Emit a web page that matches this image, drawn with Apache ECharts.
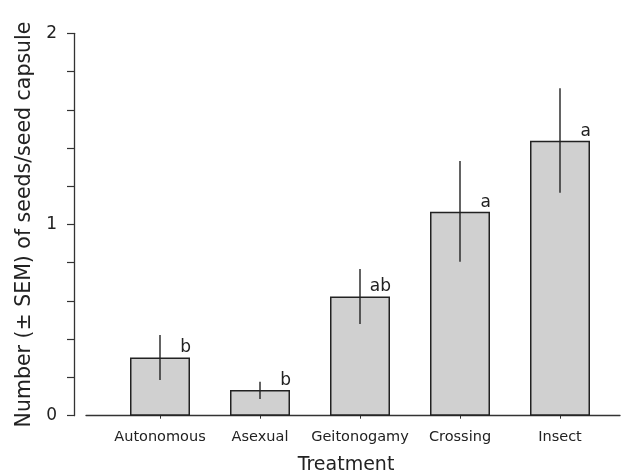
<!DOCTYPE html>
<html>
<head>
<meta charset="utf-8">
<script src="https://cdn.jsdelivr.net/npm/echarts@6/dist/echarts.min.js"></script>
<style>html,body{margin:0;padding:0;background:#fff}#c{width:622px;height:475px}</style>
</head>
<body>
<div id="c"></div>
<script>
const categories = ['Autonomous', 'Asexual', 'Geitonogamy', 'Crossing', 'Insect'];
const means = [0.305, 0.134, 0.624, 1.067, 1.438];
const errLow = [0.187, 0.087, 0.48, 0.805, 1.166];
const errHigh = [0.422, 0.178, 0.767, 1.332, 1.712];
const letters = ['b', 'b', 'ab', 'a', 'a'];
const yTicks = [0, 1, 2];

const font = 'DejaVu Sans';
const chart = echarts.init(document.getElementById('c'), null, {renderer: 'canvas'});
const idx = categories.map((c, i) => i);

chart.setOption({
  animation: false,
  backgroundColor: '#fff',
  grid: {left: 86, right: 2, top: 33.3, bottom: 59.3, containLabel: false, outerBoundsMode: 'none'},
  xAxis: {
    type: 'value', min: -0.74, max: 4.6,
    splitLine: {show: false},
    axisLine: {show: true, onZero: false, lineStyle: {color: '#333', width: 1.3}},
    axisTick: {show: true, customValues: idx, length: 3, lineStyle: {color: '#333'}},
    axisLabel: {
      show: true, customValues: idx, margin: 14,
      formatter: v => categories[Math.round(v)],
      fontFamily: font, fontSize: 14.5, color: '#222'
    },
    name: 'Treatment', nameLocation: 'middle', nameGap: 40,
    nameTextStyle: {fontFamily: font, fontSize: 19, color: '#222', padding: [0, 14, 0, 0]}
  },
  yAxis: {
    type: 'value', min: yTicks[0], max: yTicks[yTicks.length - 1], interval: 1,
    offset: 12,
    splitLine: {show: false},
    axisLine: {show: true, onZero: false, lineStyle: {color: '#333', width: 1.3}},
    axisTick: {show: true, length: 7, lineStyle: {color: '#333', width: 1.2}},
    minorTick: {show: true, splitNumber: 5, length: 7, lineStyle: {color: '#333', width: 1.2}},
    axisLabel: {margin: 17, fontFamily: font, fontSize: 17, color: '#222'},
    name: 'Number (\u00b1 SEM) of seeds/seed capsule', nameLocation: 'middle', nameGap: 38,
    nameTextStyle: {fontFamily: font, fontSize: 20.5, color: '#222'}
  },
  series: [
    {
      type: 'bar', barWidth: 60,
      data: means.map((v, i) => [i, v]),
      itemStyle: {color: '#d0d0d0', borderColor: '#222', borderWidth: 1.5},
      label: {
        show: true, position: ['100%', 0], align: 'right', verticalAlign: 'bottom',
        offset: [1, -1],
        formatter: p => letters[p.dataIndex],
        fontFamily: font, fontSize: 17, color: '#222'
      },
      z: 2
    },
    {
      type: 'custom',
      data: means.map((v, i) => [i, errLow[i], errHigh[i]]),
      renderItem: (params, api) => {
        const lo = api.coord([api.value(0), api.value(1)]);
        const hi = api.coord([api.value(0), api.value(2)]);
        return {
          type: 'line',
          shape: {x1: lo[0], y1: lo[1], x2: hi[0], y2: hi[1]},
          style: {stroke: '#222', lineWidth: 1.4}
        };
      },
      z: 3
    }
  ]
});
</script>
</body>
</html>
